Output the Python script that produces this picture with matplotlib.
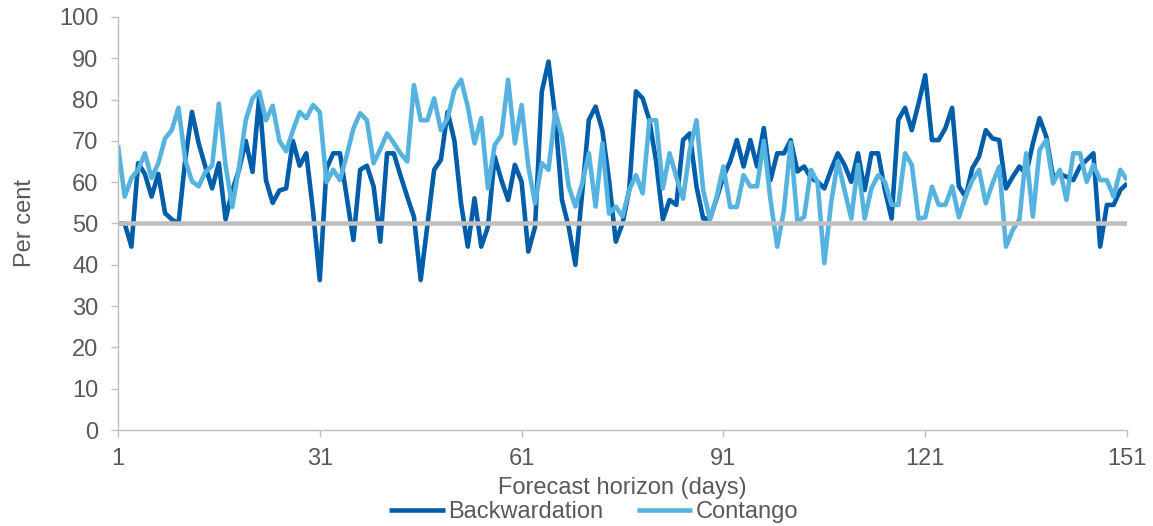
import numpy as np
import matplotlib.pyplot as plt

plt.rcParams['font.family'] = ['Liberation Sans', 'DejaVu Sans']

days = np.arange(1, 152)

backwardation = [
    50, 50, 44.4, 64.6, 62, 56.5, 62, 52.5, 51, 50,
    65.4, 77, 69.4, 63.7, 58.5, 64.6, 51, 58, 63, 70,
    62.5, 80.7, 60.5, 55, 58, 58.5, 70, 64, 67, 53,
    36.3, 63.3, 67, 67, 56.5, 46, 63, 64, 59, 45.6,
    67, 67, 61.6, 56.5, 51.6, 36.3, 49.6, 63, 65.4, 77,
    70.2, 54.9, 44.4, 56.1, 44.4, 49.2, 66.2, 60.5, 55.7, 64.2,
    60.1, 43.2, 49.2, 81.9, 89.2, 75.9, 55.7, 49.2, 40, 57.3,
    75.1, 78.3, 72.6, 60.5, 45.6, 50, 58.1, 82, 80.3, 75,
    65, 51, 55.7, 54.5, 70.2, 71.8, 58.9, 51.2, 51.2, 56.1,
    61.3, 65, 70.2, 63.8, 70.2, 63.8, 73.1, 60.5, 67, 67,
    70.2, 62.6, 63.8, 61, 60.1, 58.5, 63, 67, 64.2, 60.1,
    67, 58.1, 67, 67, 58.1, 51.2, 75.1, 78, 72.6, 79,
    85.9, 70.2, 70.2, 73.1, 78, 59, 56.5, 63.4, 66.2, 72.6,
    70.6, 70.2, 58.5, 61.3, 63.8, 62, 69.4, 75.5, 71, 61.3,
    62, 61.3, 60.5, 63.8, 65.4, 67, 44.4, 54.5, 54.5, 58.1,
    59.7,
]

contango = [
    69, 56.5, 61, 63, 67, 61, 64.6, 70.6, 72.6, 78,
    65.4, 60.2, 59, 62.5, 64, 79, 64, 54, 63.7, 75,
    80.3, 81.9, 75, 78.5, 70, 67.5, 72.5, 77, 75.5, 78.7,
    77, 60, 63, 60.5, 66.5, 73, 76.7, 75, 64.6, 68,
    71.8, 69.5, 67, 65, 83.5, 75, 75, 80.3, 72.6, 75.5,
    82.3, 84.8, 78.3, 69.4, 75.5, 58.5, 69, 71.4, 84.8, 69.4,
    78.7, 63.8, 54.9, 64.6, 63, 77.1, 71, 59, 54.1, 59.7,
    67, 54.1, 69.4, 52.4, 54.1, 51.7, 58.1, 61.7, 57.3, 75,
    75, 58.5, 67, 61.3, 56, 67.8, 75, 58, 51, 56.5,
    63.8, 54, 54, 61.7, 59, 59, 70, 55.7, 44.4, 53.3,
    69.6, 50.5, 51.6, 63, 60, 40.4, 54.9, 65, 58.1, 51.2,
    64.2, 51.2, 58.5, 61.7, 60.1, 54.5, 54.5, 67, 64.2, 51.2,
    51.5, 58.9, 54.5, 54.5, 59, 51.5, 56.5, 60.5, 63, 54.9,
    59.7, 63.8, 44.4, 48.4, 51, 67, 51.7, 67.8, 70.2, 59.7,
    63, 55.7, 67, 67, 60.1, 64.2, 60.5, 60.5, 56.5, 63,
    60.5,
]

threshold = 50
xticks = [1, 31, 61, 91, 121, 151]

text_col = '#595959'
axis_col = '#BFBFBF'
fs = 17

fig = plt.figure(figsize=(11.53, 5.26), dpi=100)
ax = fig.add_axes([0.1023, 0.1825, 0.8752, 0.7852])

ax.plot(days, backwardation, color='#005DAA', lw=3.3, label='Backwardation',
        solid_joinstyle='round', solid_capstyle='butt')
ax.plot(days, contango, color='#56B3E0', lw=3.3, label='Contango',
        solid_joinstyle='round', solid_capstyle='butt')
ax.axhline(threshold, color='#BFBFBF', lw=3.3, zorder=5)

ax.set_xlim(1, 151)
ax.set_ylim(0, 100)
ax.set_xticks(xticks)
ax.set_yticks(range(0, 101, 10))

for s in ['top', 'right']:
    ax.spines[s].set_visible(False)
for s in ['left', 'bottom']:
    ax.spines[s].set_color(axis_col)
    ax.spines[s].set_linewidth(1)

ax.tick_params(axis='both', colors=axis_col, labelcolor=text_col,
               labelsize=fs, length=5, width=1)
ax.tick_params(axis='x', pad=8)
ax.tick_params(axis='y', pad=9)

ax.set_xlabel('Forecast horizon (days)', fontsize=fs, color=text_col, labelpad=5)
ax.set_ylabel('Per cent', fontsize=fs, color=text_col, labelpad=17)

fig.legend(loc='lower center', bbox_to_anchor=(0.515, -0.035), ncol=2,
           frameon=False, fontsize=fs, handlelength=2.35, columnspacing=1.4,
           handletextpad=0.15, labelcolor=text_col)

fig.savefig('out.png', dpi=100)
